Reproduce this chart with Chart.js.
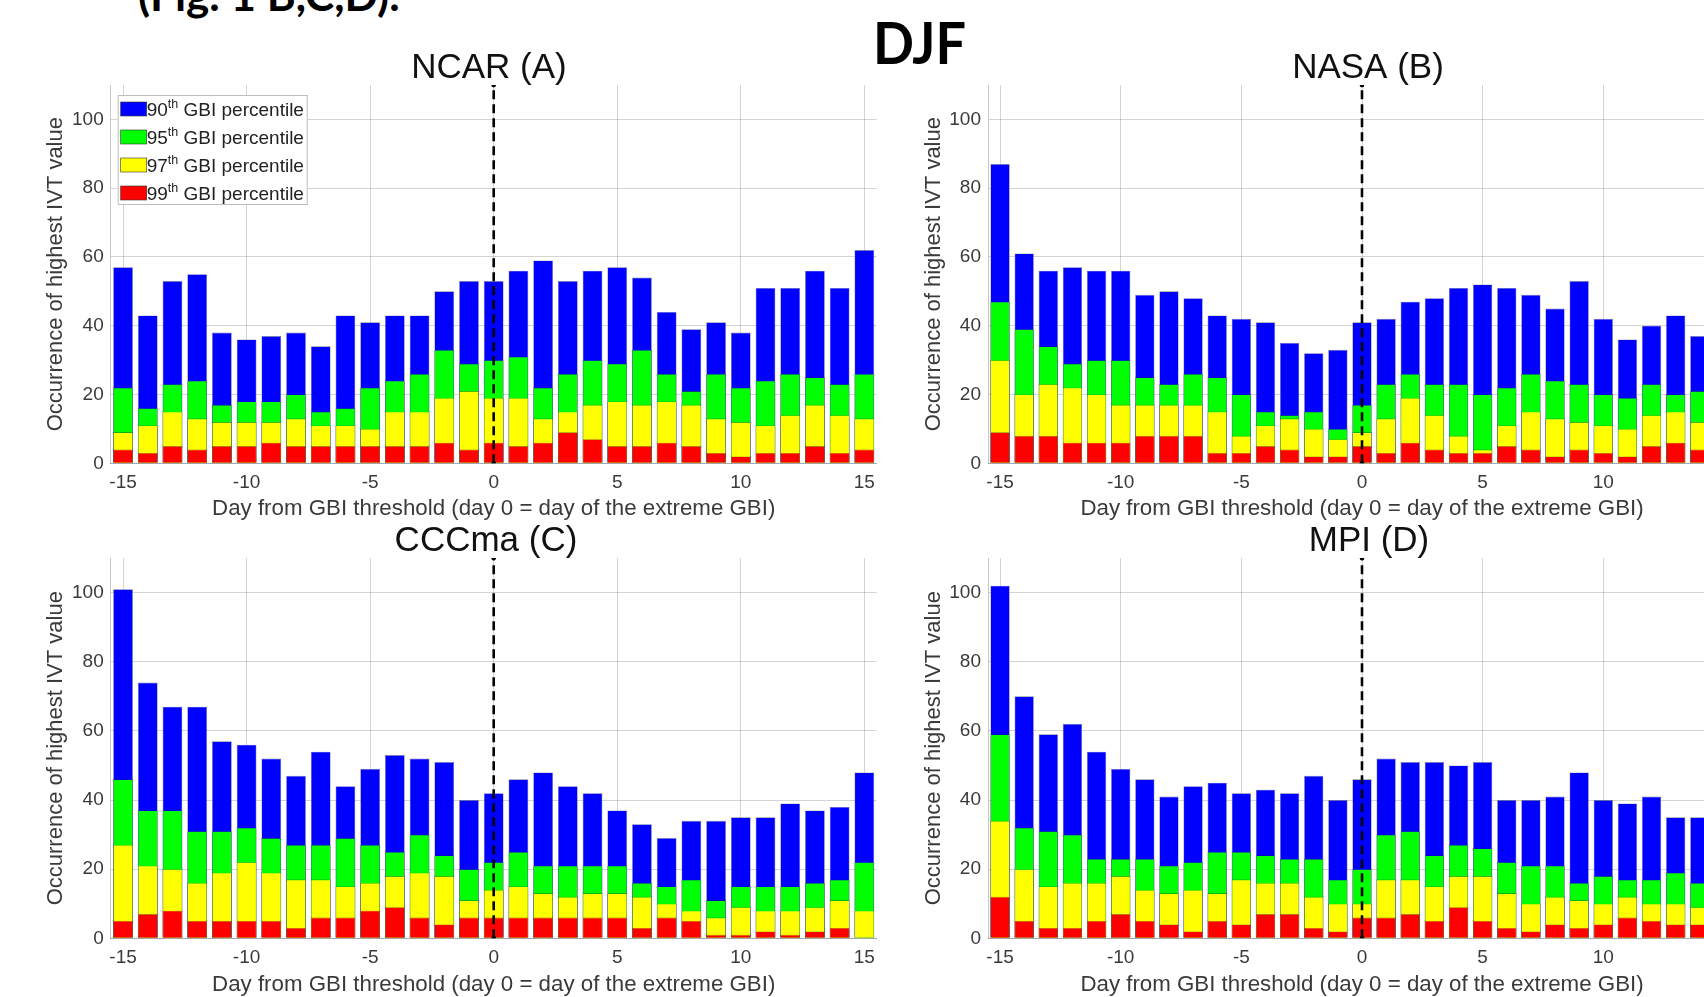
<!DOCTYPE html>
<html>
<head>
<meta charset="utf-8">
<title>DJF – occurrence of highest IVT value around extreme GBI days</title>
<script src="https://cdn.jsdelivr.net/npm/chart.js@4.4.1/dist/chart.umd.min.js"></script>
<style>
  html, body { margin: 0; padding: 0; background: #fff; overflow: hidden; }
  #page { position: relative; width: 1704px; height: 997px; overflow: hidden; background: #fff; }
  #page canvas { position: absolute; }
  .caption { position: absolute; font-family: Lato, "Open Sans", sans-serif; font-weight: 700; color: #000; white-space: nowrap; line-height: 1; }
  #figref { left: 138px; top: -28px; font-size: 44px; }
  #season { left: 873px; top: 13px; font-size: 58px; transform: scaleX(0.93); transform-origin: left top; }
</style>
</head>
<body>
<div id="page">
  <div class="caption" id="figref">(Fig. 1 B,C,D).</div>
  <div class="caption" id="season">DJF</div>
  <canvas id="panelA" width="900" height="500" style="left:0px;top:30px"></canvas>
  <canvas id="panelB" width="860" height="500" style="left:900px;top:30px"></canvas>
  <canvas id="panelC" width="900" height="500" style="left:0px;top:500px"></canvas>
  <canvas id="panelD" width="860" height="500" style="left:900px;top:500px"></canvas>
</div>
<script>
// Day offsets from the GBI threshold day
const days = [-15,-14,-13,-12,-11,-10,-9,-8,-7,-6,-5,-4,-3,-2,-1,0,1,2,3,4,5,6,7,8,9,10,11,12,13,14,15];
const xTicks = [-15,-10,-5,0,5,10,15];
const yTicks = [0,20,40,60,80,100];
const yMin = 0, yMax = 110;
const eventDay = 0;

const percentileNames = ['90', '95', '97', '99'];
const percentileColors = ['#0000ff', '#00ff00', '#ffff00', '#ff0000'];

// NCAR (A)
const ncar90 = [57,43,53,55,38,36,37,38,34,43,41,43,43,50,53,53,56,59,53,56,57,54,44,39,41,38,51,51,56,51,62];
const ncar95 = [22,16,23,24,17,18,18,20,15,16,22,24,26,33,29,30,31,22,26,30,29,33,26,21,26,22,24,26,25,23,26];
const ncar97 = [9,11,15,13,12,12,12,13,11,11,10,15,15,19,21,19,19,13,15,17,18,17,18,17,13,12,11,14,17,14,13];
const ncar99 = [4,3,5,4,5,5,6,5,5,5,5,5,5,6,4,6,5,6,9,7,5,5,6,5,3,2,3,3,5,3,4];

// NASA (B)
const nasa90 = [87,61,56,57,56,56,49,50,48,43,42,41,35,32,33,41,42,47,48,51,52,51,49,45,53,42,36,40,43,37,null];
const nasa95 = [47,39,34,29,30,30,25,23,26,25,20,15,14,15,10,17,23,26,23,23,20,22,26,24,23,20,19,23,20,21,null];
const nasa97 = [30,20,23,22,20,17,17,17,17,15,8,11,13,10,7,9,13,19,14,8,4,11,15,13,12,11,10,14,15,12,null];
const nasa99 = [9,8,8,6,6,6,8,8,8,3,3,5,4,2,2,5,3,6,4,3,3,5,4,2,4,3,2,5,6,4,null];

// CCCma (C)
const cccma90 = [101,74,67,67,57,56,52,47,54,44,49,53,52,51,40,42,46,48,44,42,37,33,29,34,34,35,35,39,37,38,48];
const cccma95 = [46,37,37,31,31,32,29,27,27,29,27,25,30,24,20,22,25,21,21,21,21,16,15,17,11,15,15,15,16,17,22];
const cccma97 = [27,21,20,16,19,22,19,17,17,15,16,18,19,18,11,14,15,13,12,13,13,12,10,8,6,9,8,8,9,11,8];
const cccma99 = [5,7,8,5,5,5,5,3,6,6,8,9,6,4,6,6,6,6,6,6,6,3,6,5,1,1,2,1,2,3,0];

// MPI (D)
const mpi90 = [102,70,59,62,54,49,46,41,44,45,42,43,42,47,40,46,52,51,51,50,51,40,40,41,48,40,39,41,35,35,null];
const mpi95 = [59,32,31,30,23,23,23,21,22,25,25,24,23,23,17,20,30,31,24,27,26,22,21,21,16,18,17,17,19,16,null];
const mpi97 = [34,20,15,16,16,18,14,13,14,13,17,16,16,12,10,10,17,17,15,18,18,13,10,12,11,10,12,10,10,9,null];
const mpi99 = [12,5,3,3,5,7,5,4,2,5,4,7,7,3,2,6,6,7,5,9,5,3,2,4,3,4,6,5,4,4,null];

const xTitle = 'Day from GBI threshold (day 0 = day of the extreme GBI)';
const yTitle = 'Occurrence of highest IVT value';

const FONT = '"Liberation Sans", Arial, Helvetica, sans-serif';
const TEXT_GREY = '#3a3a3a';
const GRID = 'rgba(0,0,0,0.17)';

// Panel title drawn centred above the plot area
const panelTitlePlugin = {
  id: 'panelTitle',
  afterDraw(chart, args, opts) {
    if (!opts.text) return;
    const { ctx, chartArea } = chart;
    ctx.save();
    ctx.font = `${opts.size}px ${FONT}`;
    ctx.fillStyle = '#111';
    ctx.textAlign = 'center';
    ctx.textBaseline = 'alphabetic';
    ctx.fillText(opts.text, opts.centerX, chartArea.top - opts.gap);
    ctx.restore();
  }
};

// Boxed legend placed in the upper-left corner of the plot area
const percentileLegendPlugin = {
  id: 'percentileLegend',
  afterDatasetsDraw(chart, args, opts) {
    if (!opts.show) return;
    const { ctx, chartArea } = chart;
    const x0 = chartArea.left + 7, y0 = chartArea.top + 10;
    const w = 190, rowH = 28, h = 110;
    ctx.save();
    ctx.fillStyle = '#fff';
    ctx.fillRect(x0, y0, w, h);
    ctx.strokeStyle = '#bdbdbd';
    ctx.lineWidth = 1;
    ctx.strokeRect(x0 + 0.5, y0 + 0.5, w - 1, h - 1);
    percentileNames.forEach((p, i) => {
      const cy = y0 + 14 + i * rowH;
      ctx.fillStyle = percentileColors[i];
      ctx.fillRect(x0 + 3, cy - 7, 26, 14);
      ctx.strokeStyle = '#333';
      ctx.lineWidth = 0.6;
      ctx.strokeRect(x0 + 3, cy - 7, 26, 14);
      ctx.fillStyle = '#222';
      ctx.textBaseline = 'alphabetic';
      ctx.textAlign = 'left';
      let tx = x0 + 29;
      ctx.font = `19px ${FONT}`;
      ctx.fillText(p, tx, cy + 7);
      tx += ctx.measureText(p).width;
      ctx.font = `12.5px ${FONT}`;
      ctx.fillText('th', tx, cy - 1);
      tx += ctx.measureText('th').width;
      ctx.font = `19px ${FONT}`;
      ctx.fillText(' GBI percentile', tx, cy + 7);
    });
    ctx.restore();
  }
};

function toPoints(values) {
  return days.map((d, i) => ({ x: d, y: values[i] }));
}

function buildPanel(canvasId, series, layout) {
  const datasets = series.map((vals, i) => ({
    type: 'bar',
    label: percentileNames[i] + 'th GBI percentile',
    data: toPoints(vals),
    backgroundColor: percentileColors[i],
    borderColor: 'rgba(20,20,60,0.55)',
    borderWidth: 0.6,
    grouped: false,
    categoryPercentage: 1,
    barPercentage: 0.8,
    order: 4 - i
  }));
  // dashed marker at the extreme-GBI day
  datasets.push({
    type: 'line',
    data: [{ x: eventDay, y: yMin }, { x: eventDay, y: yMax }],
    borderColor: '#000',
    borderWidth: 2.6,
    borderDash: [9, 5],
    pointRadius: 2.4,
    pointBackgroundColor: '#000',
    pointBorderWidth: 0,
    order: 0
  });

  return new Chart(document.getElementById(canvasId), {
    type: 'bar',
    data: { datasets },
    options: {
      responsive: false,
      animation: false,
      events: [],
      layout: { padding: { top: layout.padTop, right: layout.padRight, bottom: 0, left: 0 } },
      plugins: {
        legend: { display: false },
        tooltip: { enabled: false },
        title: { display: false },
        panelTitle: { text: layout.title, centerX: layout.titleX, gap: layout.titleGap, size: 35 },
        percentileLegend: { show: !!layout.legend }
      },
      scales: {
        x: {
          type: 'linear',
          min: -15.5,
          max: 15.5,
          offset: false,
          afterBuildTicks: s => { s.ticks = xTicks.map(v => ({ value: v })); },
          afterFit: s => { s.height = layout.xAxisHeight; },
          ticks: {
            autoSkip: false, maxRotation: 0, padding: 8,
            color: TEXT_GREY, font: { family: FONT, size: 19 },
            callback: v => String(v)
          },
          grid: { color: GRID, lineWidth: 1, drawTicks: false, offset: false },
          border: { display: true, color: 'rgba(0,0,0,0.22)' },
          title: {
            display: true, text: xTitle, color: TEXT_GREY,
            font: { family: FONT, size: 22.3 },
            padding: { top: 0, bottom: layout.xTitlePad }
          }
        },
        y: {
          min: yMin,
          max: yMax,
          afterBuildTicks: s => { s.ticks = yTicks.map(v => ({ value: v })); },
          afterFit: s => { s.width = layout.yAxisWidth; },
          ticks: {
            padding: 7, color: TEXT_GREY, font: { family: FONT, size: 19 },
            callback: v => String(v)
          },
          grid: { color: GRID, lineWidth: 1, drawTicks: false },
          border: { display: true, color: 'rgba(0,0,0,0.22)' },
          title: {
            display: true, text: yTitle, color: TEXT_GREY,
            font: { family: FONT, size: 22 },
            padding: { top: layout.yTitlePad, bottom: 0 }
          }
        }
      }
    },
    plugins: [panelTitlePlugin, percentileLegendPlugin]
  });
}

buildPanel('panelA', [ncar90, ncar95, ncar97, ncar99], {
  title: 'NCAR (A)', titleX: 489, titleGap: 7, legend: true,
  padTop: 55, padRight: 23.3, yAxisWidth: 110.7, xAxisHeight: 66.7,
  yTitlePad: 42.8, xTitlePad: 7.8
});
buildPanel('panelB', [nasa90, nasa95, nasa97, nasa99], {
  title: 'NASA (B)', titleX: 468, titleGap: 7, legend: false,
  padTop: 55, padRight: 24, yAxisWidth: 88, xAxisHeight: 66.7,
  yTitlePad: 20.3, xTitlePad: 7.8
});
buildPanel('panelC', [cccma90, cccma95, cccma97, cccma99], {
  title: 'CCCma (C)', titleX: 486, titleGap: 7, legend: false,
  padTop: 58.1, padRight: 23.3, yAxisWidth: 110.7, xAxisHeight: 61.7,
  yTitlePad: 42.8, xTitlePad: 1.8
});
buildPanel('panelD', [mpi90, mpi95, mpi97, mpi99], {
  title: 'MPI (D)', titleX: 469, titleGap: 7, legend: false,
  padTop: 58.1, padRight: 24, yAxisWidth: 88, xAxisHeight: 61.7,
  yTitlePad: 20.3, xTitlePad: 1.8
});
</script>
</body>
</html>
